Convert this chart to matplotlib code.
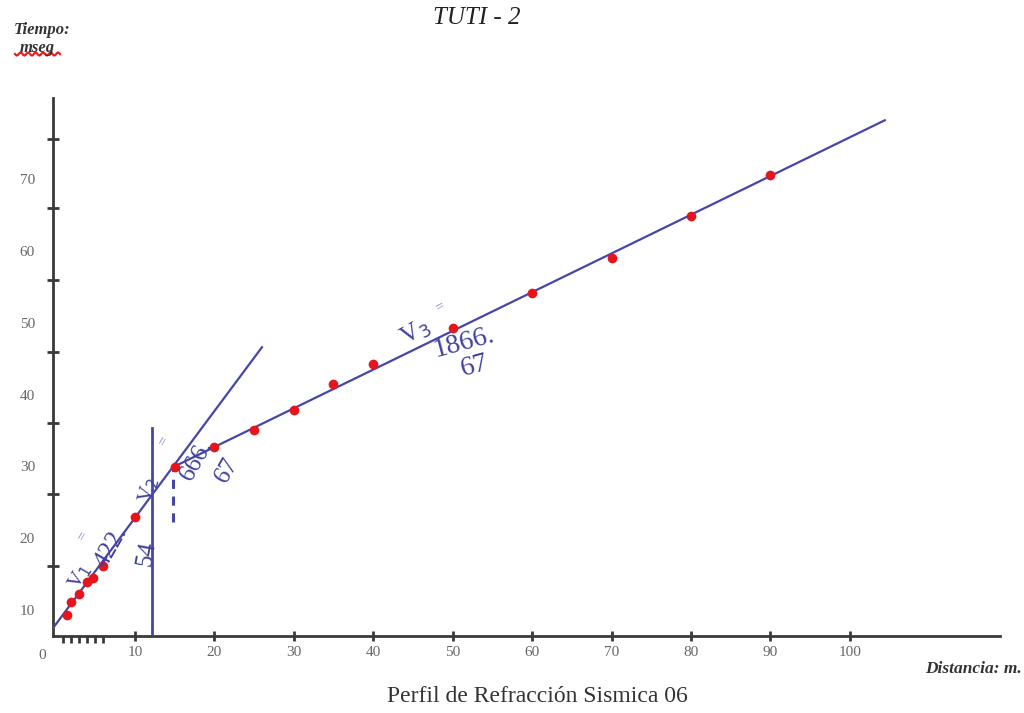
import numpy as np
import matplotlib
matplotlib.use("Agg")
import matplotlib.pyplot as plt
from matplotlib.transforms import blended_transform_factory

# Travel-time picks (distance in m, time in ms)
dist = [1.5, 2.0, 3.0, 4.0, 4.7, 6.0, 10.0, 15.0, 20.0, 25.0, 30.0, 35.0,
        40.0, 50.0, 60.0, 70.0, 80.0, 90.0]
time = [9.3, 11.2, 12.2, 13.9, 14.5, 16.1, 23.0, 29.9, 32.7, 35.1, 37.9, 41.5,
        44.3, 49.3, 54.2, 59.0, 64.9, 70.6]

# Fitted segments (x, t) end points
seg1_x = [-0.3, 12.13]
seg1_t = [7.5, 26.0]
seg2_x = [12.13, 26.0]
seg2_t = [26.0, 46.6]
seg3_x = [14.8, 104.4]
seg3_t = [29.9, 78.2]

# Crossover marker and intercept guide
cross_x = 12.13
cross_t = [6.4, 35.3]
guide_x = 14.8
guide_t = [22.3, 29.9]

xtick_vals = [10, 20, 30, 40, 50, 60, 70, 80, 90, 100]
ytick_vals = [10, 20, 30, 40, 50, 60, 70]
ytick_marks = [16.2, 26.2, 36.1, 46.0, 56.0, 66.0, 75.6]
geophone_ticks = [1, 2, 3, 4, 5, 6]

LINE = "#4646aa"
TEXT = "#40409c"
LIGHT = "#8a8ac8"
SERIF = ["Liberation Serif", "DejaVu Serif"]

plt.rcParams["font.family"] = SERIF

fig = plt.figure(figsize=(10.24, 7.13), dpi=100)
ax = fig.add_axes([53 / 1024, 77 / 713, 947 / 1024, 538 / 713])
ax.set_xlim(-0.3, 118.9)
ax.set_ylim(6.4, 81.3)

for side in ("top", "right"):
    ax.spines[side].set_visible(False)
for side in ("left", "bottom"):
    ax.spines[side].set_color("#3a3a3a")
    ax.spines[side].set_linewidth(2.0)

# travel-time branches
ax.plot(seg1_x, seg1_t, color=LINE, lw=1.6, zorder=3)
ax.plot(seg2_x, seg2_t, color=LINE, lw=1.6, zorder=3)
ax.plot(seg3_x, seg3_t, color=LINE, lw=1.6, zorder=3)
ax.plot([cross_x, cross_x], cross_t, color=LINE, lw=2.0, zorder=3)
ax.plot([guide_x, guide_x], guide_t, color=LINE, lw=2.2,
        linestyle=(0, (3, 2.5)), zorder=3)

ax.plot(dist, time, "o", color="#e8141c", ms=7, mec="none", zorder=4)

# ticks
ax.set_xticks(xtick_vals)
ax.set_xticklabels([str(v) for v in xtick_vals])
ax.set_xticks(geophone_ticks, minor=True)
ax.tick_params(axis="x", which="major", direction="inout", length=7,
               width=2, color="#3a3a3a", labelsize=11, labelcolor="#666666",
               pad=4)
ax.tick_params(axis="x", which="minor", direction="out", length=5,
               width=2, color="#3a3a3a")
ax.set_yticks(ytick_vals)
ax.set_yticklabels([str(v) for v in ytick_vals])
ax.set_yticks(ytick_marks, minor=True)
ax.tick_params(axis="y", which="major", length=0, labelsize=11,
               labelcolor="#666666", pad=13)
ax.tick_params(axis="y", which="minor", direction="inout", length=8,
               width=2, color="#3a3a3a")
ax.text(-1.6, -0.025, "0", transform=blended_transform_factory(ax.transData, ax.transAxes),
        ha="center", va="top", fontsize=11, color="#666666")

# velocity annotations
def vlabel(x, t, s, rot, size=17, color=TEXT):
    ax.text(x, t, s, rotation=rot, rotation_mode="anchor", ha="center",
            va="center", fontsize=size, color=color, zorder=5)

vlabel(3.07, 14.6, "V$_1$", 60, 15)
vlabel(3.3, 20.3, "=", 60, 11, LIGHT)
vlabel(6.97, 18.8, "422.", 60, 18)
vlabel(11.5, 17.9, "54", 80, 18)

vlabel(11.76, 26.7, "V$_2$", 75, 15)
vlabel(13.5, 33.5, "=", 60, 11, LIGHT)
vlabel(17.8, 30.9, "666.", 60, 18)
vlabel(21.6, 29.5, "67", 60, 18)

vlabel(45.4, 48.6, "V$_3$", 30, 18)
vlabel(48.4, 52.2, "=", 30, 11, LIGHT)
vlabel(51.4, 47.2, "1866.", 15, 20)
vlabel(52.7, 44.0, "67", 15, 20)

# titles and axis captions
fig.text(477 / 1024, 1 - 18 / 713, "TUTI - 2", ha="center", va="center",
         fontsize=18, style="italic", color="#222222")
fig.text(537 / 1024, 1 - 697 / 713, "Perfil de Refracción Sismica 06",
         ha="center", va="center", fontsize=17, color="#333333")
fig.text(1022 / 1024, 1 - 669 / 713, "Distancia: m.", ha="right",
         va="center", fontsize=12.5, style="italic", weight="bold",
         color="#333333")
fig.text(42 / 1024, 1 - 30 / 713, "Tiempo:", ha="center", va="center",
         fontsize=12, style="italic", weight="bold", color="#333333")
fig.text(37 / 1024, 1 - 48 / 713, "mseg", ha="center", va="center",
         fontsize=12, style="italic", weight="bold", color="#333333")

# spell-check squiggle under the unit
wx = np.linspace(15, 60, 60)
wy = 54 + 1.5 * np.sin((wx - 15) / 45 * 2 * np.pi * 6)
fig.add_artist(plt.Line2D(wx / 1024, 1 - wy / 713, color="#e82020", lw=1.6))

fig.savefig("out.png", dpi=100)
